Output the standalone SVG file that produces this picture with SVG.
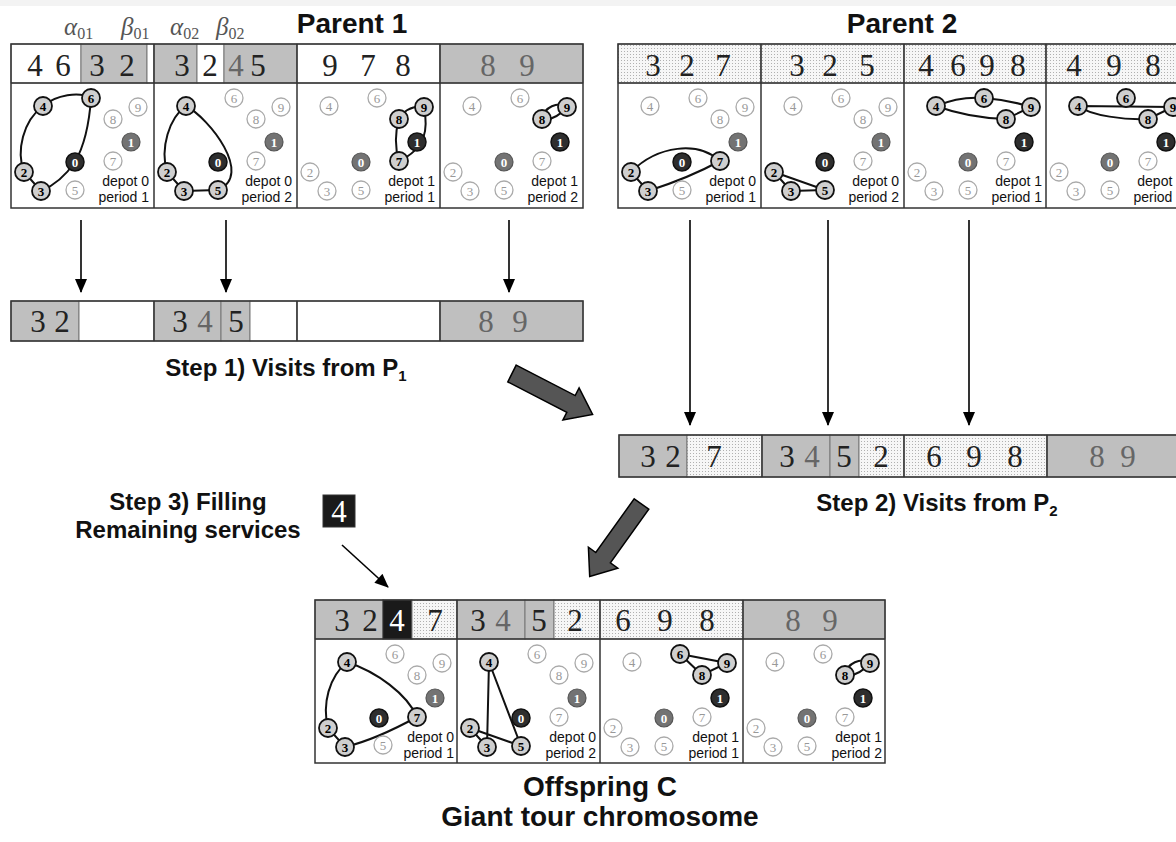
<svg xmlns="http://www.w3.org/2000/svg" width="1176" height="842" viewBox="0 0 1176 842">
<defs>
<pattern id="dots" width="3" height="3" patternUnits="userSpaceOnUse"><rect width="3" height="3" fill="#f6f6f6"/><rect width="1" height="1" fill="#b0b0b0"/></pattern>
<marker id="ah" viewBox="0 0 14 12" refX="13" refY="6" markerWidth="15" markerHeight="12" markerUnits="userSpaceOnUse" orient="auto"><path d="M0,0 L14,6 L0,12 z" fill="#000"/></marker>
<style>
.bx{fill:none;stroke:#333;stroke-width:1.5}
.ln{stroke:#333;stroke-width:1.5}
.gr{fill:#bfbfbf;stroke:#777;stroke-width:1}
.wh{fill:#fff;stroke:#777;stroke-width:1}
.dt{fill:url(#dots);stroke:#777;stroke-width:1}
.bk{fill:#1a1a1a;stroke:#333;stroke-width:1}
.dg{font-family:"Liberation Serif",serif;font-size:31px;text-anchor:middle;fill:#222}
.dl{fill:#666}
.dw{fill:#fff}
.gk{font-family:"Liberation Serif",serif;font-style:italic;font-size:25px;fill:#555}
.gk tspan{font-style:normal;font-size:16px}
.tt{font-family:"Liberation Sans",Arial,sans-serif;font-weight:bold;font-size:28px;fill:#111;text-anchor:middle}
.st{font-family:"Liberation Sans",Arial,sans-serif;font-weight:bold;font-size:24px;fill:#111;text-anchor:middle}
.dp{font-family:"Liberation Sans",Arial,sans-serif;font-size:14px;fill:#111;text-anchor:end}
.rt{fill:none;stroke:#111;stroke-width:2}
.nd text{font-family:"Liberation Serif",serif;font-size:13px;text-anchor:middle}
.i circle{fill:#fff;stroke:#aaa;stroke-width:1.3}
.i text{fill:#999}
.a circle{fill:#cfcfcf;stroke:#111;stroke-width:1.8}
.a text{fill:#000;font-weight:bold}
.d circle{fill:#2e2e2e;stroke:#111;stroke-width:1.5}
.d text{fill:#fff;font-weight:bold}
.g circle{fill:#737373;stroke:#555;stroke-width:1.2}
.g text{fill:#fff;font-weight:bold}
.ar{stroke:#000;stroke-width:1.6;fill:none;marker-end:url(#ah)}
.big{fill:#555;stroke:#000;stroke-width:1.5;stroke-linejoin:miter}
</style>
</defs>
<rect width="1176" height="842" fill="#fff"/>
<rect width="1176" height="6" fill="#f3f3f3"/>

<!-- Titles -->
<text class="tt" x="352" y="33">Parent 1</text>
<text class="tt" x="902" y="33">Parent 2</text>
<text class="gk" x="64" y="35">α<tspan dy="4">01</tspan></text>
<text class="gk" x="121" y="35">β<tspan dy="4">01</tspan></text>
<text class="gk" x="170" y="35">α<tspan dy="4">02</tspan></text>
<text class="gk" x="216" y="35">β<tspan dy="4">02</tspan></text>

<!-- Parent 1 header -->
<g id="parent1-header">
<rect class="wh" x="11" y="44" width="70" height="39"/>
<rect class="gr" x="81" y="44" width="66" height="39"/>
<rect class="wh" x="147" y="44" width="7" height="39"/>
<rect class="gr" x="154" y="44" width="43" height="39"/>
<rect class="wh" x="197" y="44" width="27" height="39"/>
<rect class="gr" x="224" y="44" width="73" height="39"/>
<rect class="wh" x="297" y="44" width="143" height="39"/>
<rect class="gr" x="440" y="44" width="143" height="39"/>
<text class="dg" x="35" y="76">4</text><text class="dg" x="63" y="76">6</text>
<text class="dg" x="97" y="76">3</text><text class="dg" x="127" y="76">2</text>
<text class="dg" x="182" y="76">3</text><text class="dg" x="210" y="76">2</text>
<text class="dg dl" x="236" y="76">4</text><text class="dg" x="258" y="76">5</text>
<text class="dg" x="330" y="76">9</text><text class="dg" x="368" y="76">7</text><text class="dg" x="403" y="76">8</text>
<text class="dg dl" x="488" y="76">8</text><text class="dg dl" x="527" y="76">9</text>
</g>
<g id="parent1-frame">
<rect class="bx" x="11" y="44" width="572" height="164"/>
<line class="ln" x1="11" y1="83" x2="583" y2="83"/>
<line class="ln" x1="154" y1="44" x2="154" y2="208"/>
<line class="ln" x1="297" y1="44" x2="297" y2="208"/>
<line class="ln" x1="440" y1="44" x2="440" y2="208"/>
</g>

<!-- Parent 1 panels -->
<g id="p1-d0-p1" transform="translate(11,83)">
<path class="rt" d="M32,23 C45,12 68,8 80,15 C78,45 72,65 64,79 C55,92 42,103 30,108 L13,89 C5,68 12,38 32,23"/>
<g class="nd a" transform="translate(32,23)"><circle r="9"/><text y="4.5">4</text></g>
<g class="nd a" transform="translate(80,15)"><circle r="9"/><text y="4.5">6</text></g>
<g class="nd i" transform="translate(127,24)"><circle r="9"/><text y="4.5">9</text></g>
<g class="nd i" transform="translate(102,36)"><circle r="9"/><text y="4.5">8</text></g>
<g class="nd g" transform="translate(120,59)"><circle r="9"/><text y="4.5">1</text></g>
<g class="nd d" transform="translate(64,79)"><circle r="9"/><text y="4.5">0</text></g>
<g class="nd i" transform="translate(102,78)"><circle r="9"/><text y="4.5">7</text></g>
<g class="nd a" transform="translate(13,89)"><circle r="9"/><text y="4.5">2</text></g>
<g class="nd a" transform="translate(30,108)"><circle r="9"/><text y="4.5">3</text></g>
<g class="nd i" transform="translate(64,107)"><circle r="9"/><text y="4.5">5</text></g>
<text class="dp" x="138" y="103">depot 0</text><text class="dp" x="138" y="119">period 1</text>
</g>
<g id="p1-d0-p2" transform="translate(154,83)">
<path class="rt" d="M32,23 C55,35 100,92 64,107 L30,108 L13,89 C6,65 15,35 32,23"/>
<g class="nd a" transform="translate(32,23)"><circle r="9"/><text y="4.5">4</text></g>
<g class="nd i" transform="translate(80,15)"><circle r="9"/><text y="4.5">6</text></g>
<g class="nd i" transform="translate(127,24)"><circle r="9"/><text y="4.5">9</text></g>
<g class="nd i" transform="translate(102,36)"><circle r="9"/><text y="4.5">8</text></g>
<g class="nd g" transform="translate(120,59)"><circle r="9"/><text y="4.5">1</text></g>
<g class="nd d" transform="translate(64,79)"><circle r="9"/><text y="4.5">0</text></g>
<g class="nd i" transform="translate(102,78)"><circle r="9"/><text y="4.5">7</text></g>
<g class="nd a" transform="translate(13,89)"><circle r="9"/><text y="4.5">2</text></g>
<g class="nd a" transform="translate(30,108)"><circle r="9"/><text y="4.5">3</text></g>
<g class="nd a" transform="translate(64,107)"><circle r="9"/><text y="4.5">5</text></g>
<text class="dp" x="138" y="103">depot 0</text><text class="dp" x="138" y="119">period 2</text>
</g>
<g id="p1-d1-p1" transform="translate(297,83)">
<path class="rt" d="M102,36 Q110,22 127,24 C131,45 130,65 102,78 C98,65 98,50 102,36"/>
<g class="nd i" transform="translate(32,23)"><circle r="9"/><text y="4.5">4</text></g>
<g class="nd i" transform="translate(80,15)"><circle r="9"/><text y="4.5">6</text></g>
<g class="nd a" transform="translate(127,24)"><circle r="9"/><text y="4.5">9</text></g>
<g class="nd a" transform="translate(102,36)"><circle r="9"/><text y="4.5">8</text></g>
<g class="nd d" transform="translate(120,59)"><circle r="9"/><text y="4.5">1</text></g>
<g class="nd g" transform="translate(64,79)"><circle r="9"/><text y="4.5">0</text></g>
<g class="nd a" transform="translate(102,78)"><circle r="9"/><text y="4.5">7</text></g>
<g class="nd i" transform="translate(13,89)"><circle r="9"/><text y="4.5">2</text></g>
<g class="nd i" transform="translate(30,108)"><circle r="9"/><text y="4.5">3</text></g>
<g class="nd i" transform="translate(64,107)"><circle r="9"/><text y="4.5">5</text></g>
<text class="dp" x="138" y="103">depot 1</text><text class="dp" x="138" y="119">period 1</text>
</g>
<g id="p1-d1-p2" transform="translate(440,83)">
<path class="rt" d="M102,36 C104,24 118,18 127,24 C120,32 112,38 102,36"/>
<g class="nd i" transform="translate(32,23)"><circle r="9"/><text y="4.5">4</text></g>
<g class="nd i" transform="translate(80,15)"><circle r="9"/><text y="4.5">6</text></g>
<g class="nd a" transform="translate(127,24)"><circle r="9"/><text y="4.5">9</text></g>
<g class="nd a" transform="translate(102,36)"><circle r="9"/><text y="4.5">8</text></g>
<g class="nd d" transform="translate(120,59)"><circle r="9"/><text y="4.5">1</text></g>
<g class="nd g" transform="translate(64,79)"><circle r="9"/><text y="4.5">0</text></g>
<g class="nd i" transform="translate(102,78)"><circle r="9"/><text y="4.5">7</text></g>
<g class="nd i" transform="translate(13,89)"><circle r="9"/><text y="4.5">2</text></g>
<g class="nd i" transform="translate(30,108)"><circle r="9"/><text y="4.5">3</text></g>
<g class="nd i" transform="translate(64,107)"><circle r="9"/><text y="4.5">5</text></g>
<text class="dp" x="138" y="103">depot 1</text><text class="dp" x="138" y="119">period 2</text>
</g>

<!-- Parent 2 header -->
<g id="parent2-header">
<rect class="dt" x="618" y="44" width="143" height="39"/>
<rect class="dt" x="761" y="44" width="143" height="39"/>
<rect class="dt" x="904" y="44" width="142" height="39"/>
<rect class="dt" x="1046" y="44" width="143" height="39"/>
<text class="dg" x="653" y="76">3</text><text class="dg" x="687" y="76">2</text><text class="dg" x="723" y="76">7</text>
<text class="dg" x="797" y="76">3</text><text class="dg" x="830" y="76">2</text><text class="dg" x="867" y="76">5</text>
<text class="dg" x="926" y="76">4</text><text class="dg" x="958" y="76">6</text><text class="dg" x="987" y="76">9</text><text class="dg" x="1018" y="76">8</text>
<text class="dg" x="1074" y="76">4</text><text class="dg" x="1114" y="76">9</text><text class="dg" x="1153" y="76">8</text>
</g>
<g id="parent2-frame">
<rect class="bx" x="618" y="44" width="571" height="164"/>
<line class="ln" x1="618" y1="83" x2="1189" y2="83"/>
<line class="ln" x1="761" y1="44" x2="761" y2="208"/>
<line class="ln" x1="904" y1="44" x2="904" y2="208"/>
<line class="ln" x1="1046" y1="44" x2="1046" y2="208"/>
</g>

<!-- Parent 2 panels -->
<g id="p2-d0-p1" transform="translate(618,83)">
<path class="rt" d="M13,89 C40,62 80,58 102,78 C80,90 55,100 30,108 Z"/>
<g class="nd i" transform="translate(32,23)"><circle r="9"/><text y="4.5">4</text></g>
<g class="nd i" transform="translate(80,15)"><circle r="9"/><text y="4.5">6</text></g>
<g class="nd i" transform="translate(127,24)"><circle r="9"/><text y="4.5">9</text></g>
<g class="nd i" transform="translate(102,36)"><circle r="9"/><text y="4.5">8</text></g>
<g class="nd g" transform="translate(120,59)"><circle r="9"/><text y="4.5">1</text></g>
<g class="nd d" transform="translate(64,79)"><circle r="9"/><text y="4.5">0</text></g>
<g class="nd a" transform="translate(102,78)"><circle r="9"/><text y="4.5">7</text></g>
<g class="nd a" transform="translate(13,89)"><circle r="9"/><text y="4.5">2</text></g>
<g class="nd a" transform="translate(30,108)"><circle r="9"/><text y="4.5">3</text></g>
<g class="nd i" transform="translate(64,107)"><circle r="9"/><text y="4.5">5</text></g>
<text class="dp" x="138" y="103">depot 0</text><text class="dp" x="138" y="119">period 1</text>
</g>
<g id="p2-d0-p2" transform="translate(761,83)">
<path class="rt" d="M13,89 L64,107 L30,108 Z"/>
<g class="nd i" transform="translate(32,23)"><circle r="9"/><text y="4.5">4</text></g>
<g class="nd i" transform="translate(80,15)"><circle r="9"/><text y="4.5">6</text></g>
<g class="nd i" transform="translate(127,24)"><circle r="9"/><text y="4.5">9</text></g>
<g class="nd i" transform="translate(102,36)"><circle r="9"/><text y="4.5">8</text></g>
<g class="nd g" transform="translate(120,59)"><circle r="9"/><text y="4.5">1</text></g>
<g class="nd d" transform="translate(64,79)"><circle r="9"/><text y="4.5">0</text></g>
<g class="nd i" transform="translate(102,78)"><circle r="9"/><text y="4.5">7</text></g>
<g class="nd a" transform="translate(13,89)"><circle r="9"/><text y="4.5">2</text></g>
<g class="nd a" transform="translate(30,108)"><circle r="9"/><text y="4.5">3</text></g>
<g class="nd a" transform="translate(64,107)"><circle r="9"/><text y="4.5">5</text></g>
<text class="dp" x="138" y="103">depot 0</text><text class="dp" x="138" y="119">period 2</text>
</g>
<g id="p2-d1-p1" transform="translate(904,83)">
<path class="rt" d="M32,23 Q56,13 80,15 Q105,17 127,24 L102,36 Q65,35 32,23"/>
<g class="nd a" transform="translate(32,23)"><circle r="9"/><text y="4.5">4</text></g>
<g class="nd a" transform="translate(80,15)"><circle r="9"/><text y="4.5">6</text></g>
<g class="nd a" transform="translate(127,24)"><circle r="9"/><text y="4.5">9</text></g>
<g class="nd a" transform="translate(102,36)"><circle r="9"/><text y="4.5">8</text></g>
<g class="nd d" transform="translate(120,59)"><circle r="9"/><text y="4.5">1</text></g>
<g class="nd g" transform="translate(64,79)"><circle r="9"/><text y="4.5">0</text></g>
<g class="nd i" transform="translate(102,78)"><circle r="9"/><text y="4.5">7</text></g>
<g class="nd i" transform="translate(13,89)"><circle r="9"/><text y="4.5">2</text></g>
<g class="nd i" transform="translate(30,108)"><circle r="9"/><text y="4.5">3</text></g>
<g class="nd i" transform="translate(64,107)"><circle r="9"/><text y="4.5">5</text></g>
<text class="dp" x="138" y="103">depot 1</text><text class="dp" x="138" y="119">period 1</text>
</g>
<g id="p2-d1-p2" transform="translate(1046,83)">
<path class="rt" d="M32,23 L127,24 L102,36 C80,37 45,33 32,23"/>
<g class="nd a" transform="translate(32,23)"><circle r="9"/><text y="4.5">4</text></g>
<g class="nd a" transform="translate(80,15)"><circle r="9"/><text y="4.5">6</text></g>
<g class="nd a" transform="translate(127,24)"><circle r="9"/><text y="4.5">9</text></g>
<g class="nd a" transform="translate(102,36)"><circle r="9"/><text y="4.5">8</text></g>
<g class="nd d" transform="translate(120,59)"><circle r="9"/><text y="4.5">1</text></g>
<g class="nd g" transform="translate(64,79)"><circle r="9"/><text y="4.5">0</text></g>
<g class="nd i" transform="translate(102,78)"><circle r="9"/><text y="4.5">7</text></g>
<g class="nd i" transform="translate(13,89)"><circle r="9"/><text y="4.5">2</text></g>
<g class="nd i" transform="translate(30,108)"><circle r="9"/><text y="4.5">3</text></g>
<g class="nd i" transform="translate(64,107)"><circle r="9"/><text y="4.5">5</text></g>
<text class="dp" x="138" y="103">depot 1</text><text class="dp" x="138" y="119">period 2</text>
</g>

<!-- Step 1 row -->
<g id="step1-row">
<rect class="gr" x="11" y="301" width="68" height="40"/>
<rect class="wh" x="79" y="301" width="75" height="40"/>
<rect class="gr" x="154" y="301" width="67" height="40"/>
<rect class="gr" x="221" y="301" width="29" height="40"/>
<rect class="wh" x="250" y="301" width="47" height="40"/>
<rect class="wh" x="297" y="301" width="143" height="40"/>
<rect class="gr" x="440" y="301" width="143" height="40"/>
<rect class="bx" x="11" y="301" width="572" height="40"/>
<line class="ln" x1="154" y1="301" x2="154" y2="341"/>
<line class="ln" x1="297" y1="301" x2="297" y2="341"/>
<line class="ln" x1="440" y1="301" x2="440" y2="341"/>
<text class="dg" x="38" y="332">3</text><text class="dg" x="62" y="332">2</text>
<text class="dg" x="180" y="332">3</text><text class="dg dl" x="205" y="332">4</text><text class="dg" x="236" y="332">5</text>
<text class="dg dl" x="486" y="332">8</text><text class="dg dl" x="520" y="332">9</text>
</g>
<text id="step1-label" class="st" x="286" y="376">Step 1) Visits from P<tspan font-size="15" dy="5">1</tspan></text>

<!-- Step 2 row -->
<g id="step2-row">
<rect class="gr" x="619" y="435" width="68" height="42"/>
<rect class="dt" x="687" y="435" width="75" height="42"/>
<rect class="gr" x="762" y="435" width="68" height="42"/>
<rect class="gr" x="830" y="435" width="29" height="42"/>
<rect class="dt" x="859" y="435" width="45" height="42"/>
<rect class="dt" x="904" y="435" width="143" height="42"/>
<rect class="gr" x="1047" y="435" width="142" height="42"/>
<rect class="bx" x="619" y="435" width="570" height="42"/>
<line class="ln" x1="762" y1="435" x2="762" y2="477"/>
<line class="ln" x1="904" y1="435" x2="904" y2="477"/>
<line class="ln" x1="1047" y1="435" x2="1047" y2="477"/>
<text class="dg" x="648" y="467">3</text><text class="dg" x="673" y="467">2</text>
<text class="dg" x="714" y="467">7</text>
<text class="dg" x="787" y="467">3</text><text class="dg dl" x="812" y="467">4</text>
<text class="dg" x="844" y="467">5</text>
<text class="dg" x="881" y="467">2</text>
<text class="dg" x="934" y="467">6</text><text class="dg" x="974" y="467">9</text><text class="dg" x="1015" y="467">8</text>
<text class="dg dl" x="1097" y="467">8</text><text class="dg dl" x="1128" y="467">9</text>
</g>
<text id="step2-label" class="st" x="937" y="511">Step 2) Visits from P<tspan font-size="15" dy="5">2</tspan></text>

<!-- Step 3 -->
<text id="step3-label" class="st" x="188" y="510">Step 3) Filling<tspan x="188" dy="28">Remaining services</tspan></text>
<g id="fill-4">
<rect class="bk" x="323" y="495" width="32" height="32"/>
<text class="dg dw" x="339" y="522">4</text>
</g>

<!-- Offspring header -->
<g id="offspring-header">
<rect class="gr" x="315" y="600" width="68" height="39"/>
<rect class="bk" x="383" y="600" width="29" height="39"/>
<rect class="dt" x="412" y="600" width="45" height="39"/>
<rect class="gr" x="457" y="600" width="68" height="39"/>
<rect class="gr" x="525" y="600" width="29" height="39"/>
<rect class="dt" x="554" y="600" width="46" height="39"/>
<rect class="dt" x="600" y="600" width="143" height="39"/>
<rect class="gr" x="743" y="600" width="142" height="39"/>
<text class="dg" x="342" y="631">3</text><text class="dg" x="370" y="631">2</text>
<text class="dg dw" x="397" y="631">4</text><text class="dg" x="435" y="631">7</text>
<text class="dg" x="478" y="631">3</text><text class="dg dl" x="503" y="631">4</text>
<text class="dg" x="539" y="631">5</text><text class="dg" x="575" y="631">2</text>
<text class="dg" x="623" y="631">6</text><text class="dg" x="665" y="631">9</text><text class="dg" x="707" y="631">8</text>
<text class="dg dl" x="793" y="631">8</text><text class="dg dl" x="830" y="631">9</text>
</g>
<g id="offspring-frame">
<rect class="bx" x="315" y="600" width="570" height="163"/>
<line class="ln" x1="315" y1="639" x2="885" y2="639"/>
<line class="ln" x1="457" y1="600" x2="457" y2="763"/>
<line class="ln" x1="600" y1="600" x2="600" y2="763"/>
<line class="ln" x1="743" y1="600" x2="743" y2="763"/>
</g>

<!-- Offspring panels -->
<g id="off-d0-p1" transform="translate(315,639)">
<path class="rt" d="M32,23 C62,33 92,55 102,78 C80,90 55,102 30,108 L13,89 C7,65 14,38 32,23"/>
<g class="nd a" transform="translate(32,23)"><circle r="9"/><text y="4.5">4</text></g>
<g class="nd i" transform="translate(80,15)"><circle r="9"/><text y="4.5">6</text></g>
<g class="nd i" transform="translate(127,24)"><circle r="9"/><text y="4.5">9</text></g>
<g class="nd i" transform="translate(102,36)"><circle r="9"/><text y="4.5">8</text></g>
<g class="nd g" transform="translate(120,59)"><circle r="9"/><text y="4.5">1</text></g>
<g class="nd d" transform="translate(64,79)"><circle r="9"/><text y="4.5">0</text></g>
<g class="nd a" transform="translate(102,78)"><circle r="9"/><text y="4.5">7</text></g>
<g class="nd a" transform="translate(13,89)"><circle r="9"/><text y="4.5">2</text></g>
<g class="nd a" transform="translate(30,108)"><circle r="9"/><text y="4.5">3</text></g>
<g class="nd i" transform="translate(68,106)"><circle r="9"/><text y="4.5">5</text></g>
<text class="dp" x="139" y="103">depot 0</text><text class="dp" x="139" y="119">period 1</text>
</g>
<g id="off-d0-p2" transform="translate(457,639)">
<path class="rt" d="M32,23 L30,108 M32,23 L64,107 M13,89 L30,108 M13,89 C30,95 50,102 64,107"/>
<g class="nd a" transform="translate(32,23)"><circle r="9"/><text y="4.5">4</text></g>
<g class="nd i" transform="translate(80,15)"><circle r="9"/><text y="4.5">6</text></g>
<g class="nd i" transform="translate(127,24)"><circle r="9"/><text y="4.5">9</text></g>
<g class="nd i" transform="translate(102,36)"><circle r="9"/><text y="4.5">8</text></g>
<g class="nd g" transform="translate(120,59)"><circle r="9"/><text y="4.5">1</text></g>
<g class="nd d" transform="translate(64,79)"><circle r="9"/><text y="4.5">0</text></g>
<g class="nd i" transform="translate(102,78)"><circle r="9"/><text y="4.5">7</text></g>
<g class="nd a" transform="translate(13,89)"><circle r="9"/><text y="4.5">2</text></g>
<g class="nd a" transform="translate(30,108)"><circle r="9"/><text y="4.5">3</text></g>
<g class="nd a" transform="translate(64,107)"><circle r="9"/><text y="4.5">5</text></g>
<text class="dp" x="139" y="103">depot 0</text><text class="dp" x="139" y="119">period 2</text>
</g>
<g id="off-d1-p1" transform="translate(600,639)">
<path class="rt" d="M80,15 L127,24 L102,36 Z"/>
<g class="nd i" transform="translate(32,23)"><circle r="9"/><text y="4.5">4</text></g>
<g class="nd a" transform="translate(80,15)"><circle r="9"/><text y="4.5">6</text></g>
<g class="nd a" transform="translate(127,24)"><circle r="9"/><text y="4.5">9</text></g>
<g class="nd a" transform="translate(102,36)"><circle r="9"/><text y="4.5">8</text></g>
<g class="nd d" transform="translate(120,59)"><circle r="9"/><text y="4.5">1</text></g>
<g class="nd g" transform="translate(64,79)"><circle r="9"/><text y="4.5">0</text></g>
<g class="nd i" transform="translate(102,78)"><circle r="9"/><text y="4.5">7</text></g>
<g class="nd i" transform="translate(13,89)"><circle r="9"/><text y="4.5">2</text></g>
<g class="nd i" transform="translate(30,108)"><circle r="9"/><text y="4.5">3</text></g>
<g class="nd i" transform="translate(64,107)"><circle r="9"/><text y="4.5">5</text></g>
<text class="dp" x="139" y="103">depot 1</text><text class="dp" x="139" y="119">period 1</text>
</g>
<g id="off-d1-p2" transform="translate(743,639)">
<path class="rt" d="M102,36 C104,24 118,18 127,24 C120,32 112,38 102,36"/>
<g class="nd i" transform="translate(32,23)"><circle r="9"/><text y="4.5">4</text></g>
<g class="nd i" transform="translate(80,15)"><circle r="9"/><text y="4.5">6</text></g>
<g class="nd a" transform="translate(127,24)"><circle r="9"/><text y="4.5">9</text></g>
<g class="nd a" transform="translate(102,36)"><circle r="9"/><text y="4.5">8</text></g>
<g class="nd d" transform="translate(120,59)"><circle r="9"/><text y="4.5">1</text></g>
<g class="nd g" transform="translate(64,79)"><circle r="9"/><text y="4.5">0</text></g>
<g class="nd i" transform="translate(102,78)"><circle r="9"/><text y="4.5">7</text></g>
<g class="nd i" transform="translate(13,89)"><circle r="9"/><text y="4.5">2</text></g>
<g class="nd i" transform="translate(30,108)"><circle r="9"/><text y="4.5">3</text></g>
<g class="nd i" transform="translate(64,107)"><circle r="9"/><text y="4.5">5</text></g>
<text class="dp" x="139" y="103">depot 1</text><text class="dp" x="139" y="119">period 2</text>
</g>

<text id="offspring-label" class="tt" x="600" y="796" font-size="27">Offspring C<tspan x="600" dy="30">Giant tour chromosome</tspan></text>

<!-- Connectors -->
<g id="connectors">
<line class="ar" x1="81" y1="220" x2="81" y2="292"/>
<line class="ar" x1="226" y1="220" x2="226" y2="292"/>
<line class="ar" x1="509" y1="220" x2="509" y2="292"/>
<line class="ar" x1="690" y1="220" x2="690" y2="425"/>
<line class="ar" x1="828" y1="220" x2="828" y2="425"/>
<line class="ar" x1="969" y1="220" x2="969" y2="425"/>
<line class="ar" x1="342" y1="545" x2="388" y2="587"/>
<polygon class="big" points="516.2,365.1 575.2,395.6 579.1,387.9 592.6,414.4 562.9,420.1 566.8,412.4 507.8,381.9"/>
<polygon class="big" points="634.2,498.8 648.8,509.2 610.4,562.9 617.8,568.2 589.7,576.4 588.4,547.2 595.8,552.5"/>
</g>
</svg>
